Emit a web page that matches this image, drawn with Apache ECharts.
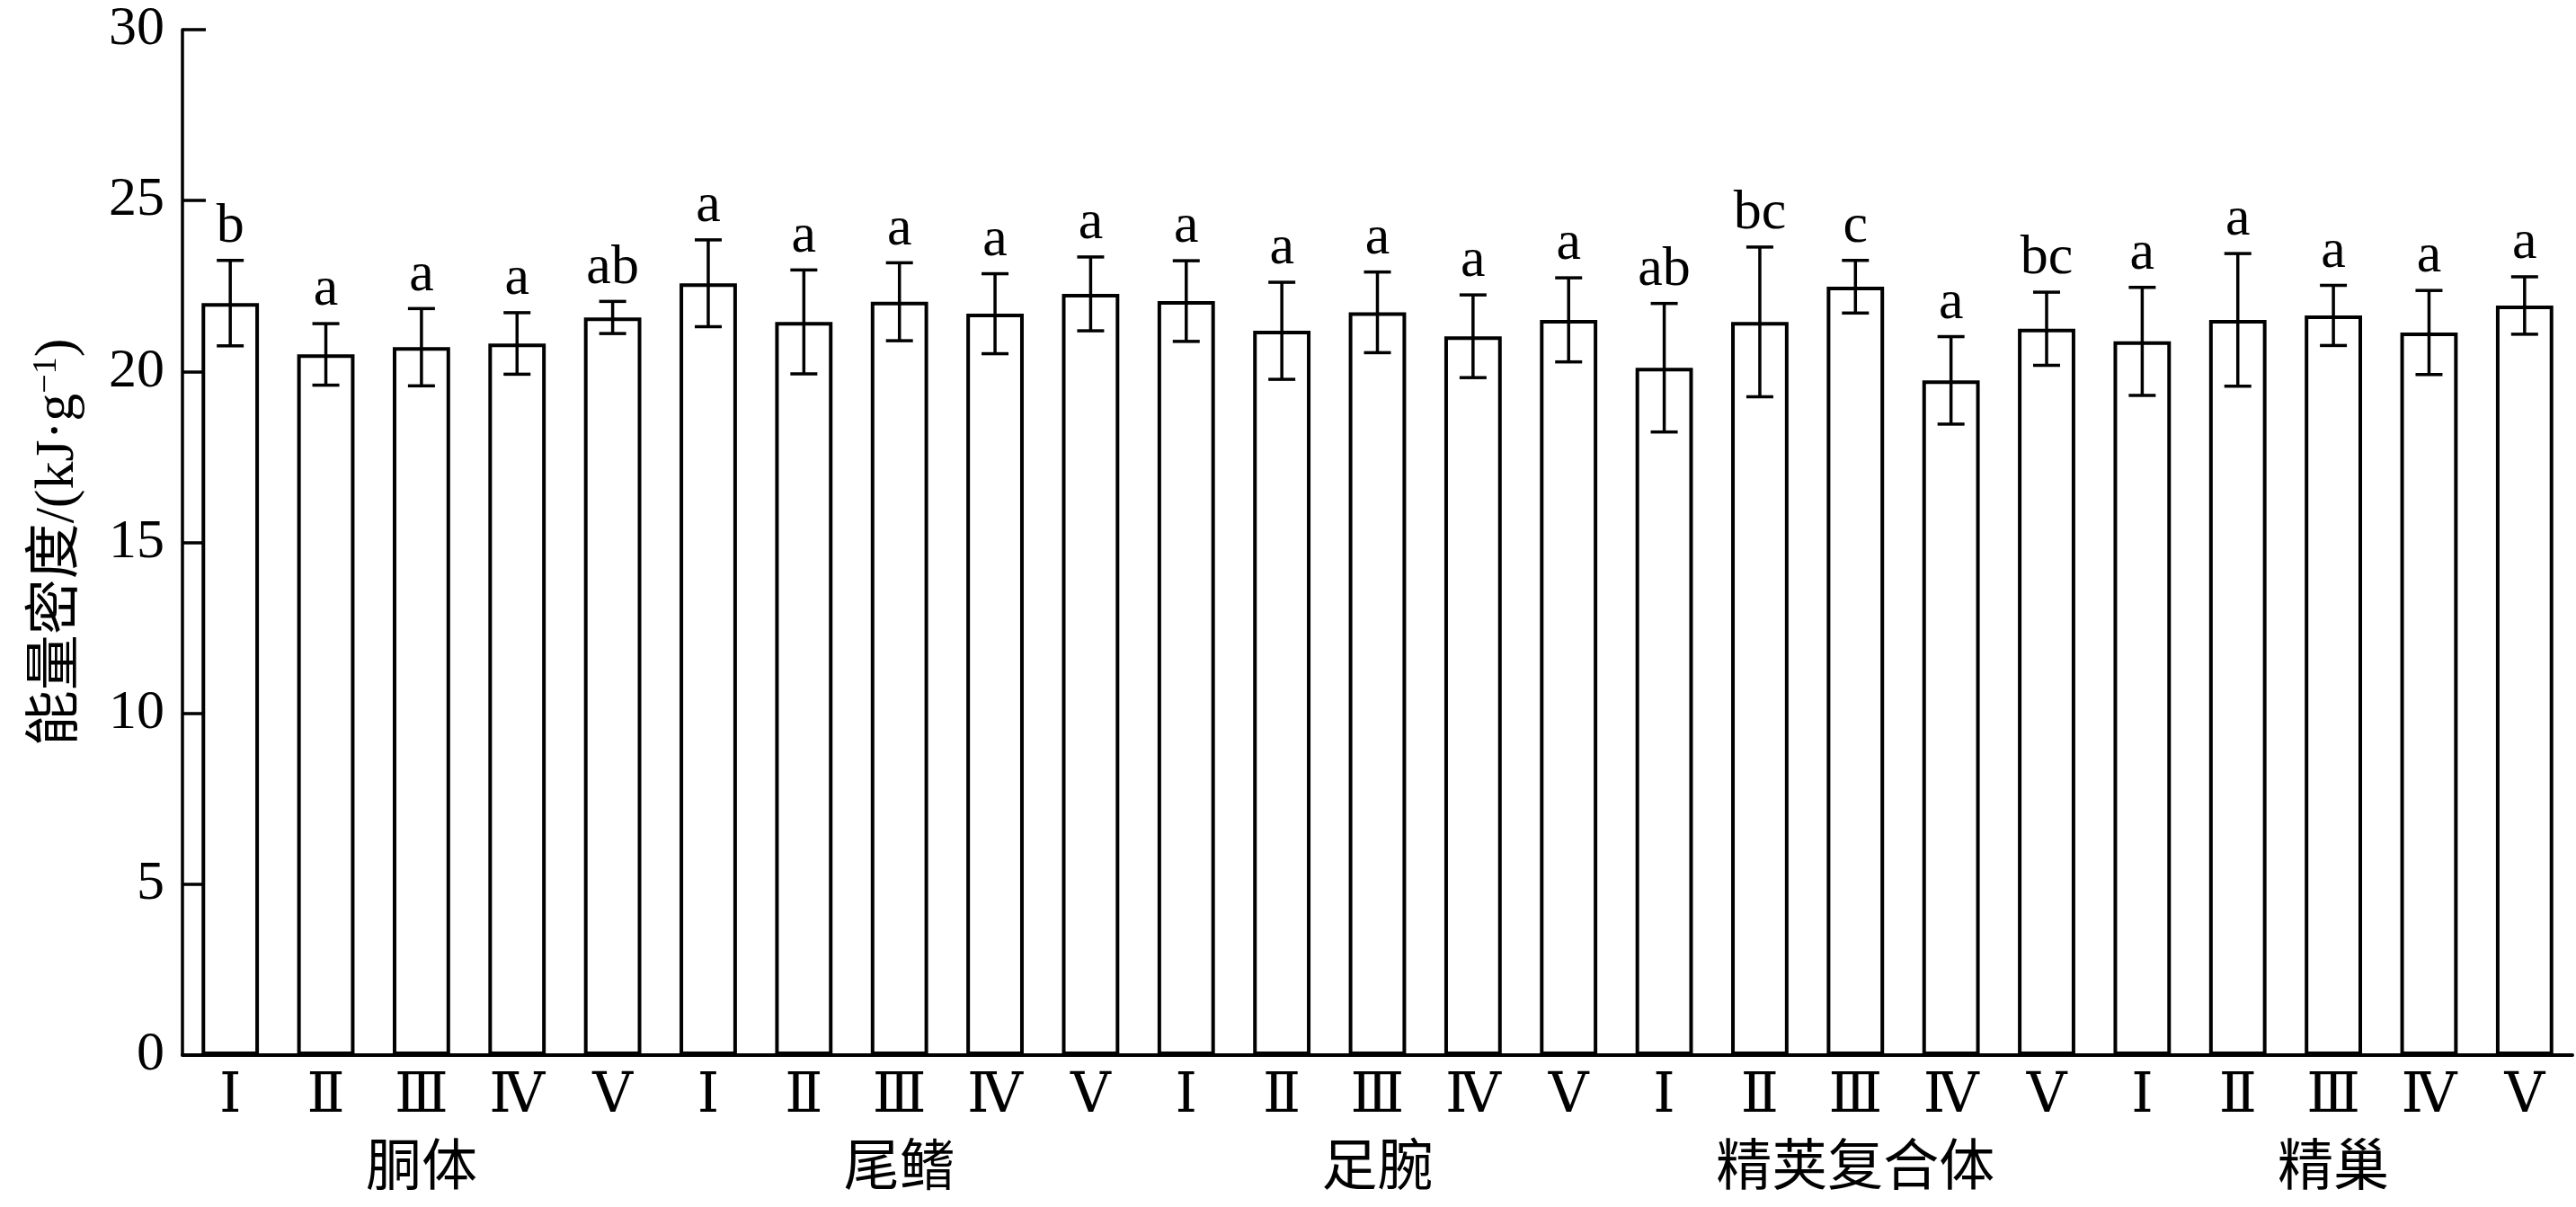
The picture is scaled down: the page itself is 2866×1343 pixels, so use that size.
<!DOCTYPE html>
<html>
<head>
<meta charset="utf-8">
<script src="https://cdn.jsdelivr.net/npm/echarts@6/dist/echarts.min.js"></script>
<style>
html,body{margin:0;padding:0;background:#fff;}
#chart{width:2866px;height:1343px;}
</style>
</head>
<body>
<div id="chart"></div>
<script>
// ---- data ----
var romans = ['Ⅰ','Ⅱ','Ⅲ','Ⅳ','Ⅴ','Ⅰ','Ⅱ','Ⅲ','Ⅳ','Ⅴ','Ⅰ','Ⅱ','Ⅲ','Ⅳ','Ⅴ','Ⅰ','Ⅱ','Ⅲ','Ⅳ','Ⅴ','Ⅰ','Ⅱ','Ⅲ','Ⅳ','Ⅴ'];
var groups = ['胴体','尾鳍','足腕','精荚复合体','精巢'];
var means = [22.0,20.5,20.71,20.82,21.58, 22.58,21.45,22.04,21.69,22.27, 22.06,21.19,21.73,21.03,21.51, 20.11,21.45,22.48,19.74,21.25, 20.88,21.51,21.64,21.14,21.93];
var sds   = [1.25,0.9,1.13,0.9,0.47, 1.27,1.52,1.14,1.17,1.08, 1.18,1.42,1.18,1.21,1.23, 1.88,2.19,0.77,1.28,1.07, 1.58,1.94,0.88,1.23,0.84];
var letters = ['b','a','a','a','ab', 'a','a','a','a','a', 'a','a','a','a','a', 'ab','bc','c','a','bc', 'a','a','a','a','a'];
var yTicks = {min:0, max:30, interval:5};

var serif = "'Liberation Serif', 'DejaVu Serif', 'Noto Sans CJK SC', serif";
var FS = 62;

var errData = means.map(function(m,i){ return [i, m, sds[i]]; });

var chart = echarts.init(document.getElementById('chart'));
chart.setOption({
  backgroundColor:'#fff',
  animation:false,
  grid:{left:203, right:4, top:33, bottom:169, containLabel:false},
  xAxis:[{
    type:'category', data:romans, position:'bottom',
    axisLine:{lineStyle:{color:'#000', width:4}},
    axisTick:{inside:true, length:16, lineStyle:{color:'#000', width:3.5}},
    axisLabel:{margin:16, fontSize:FS, color:'#000', fontFamily:serif},
    splitLine:{show:false}
  },{
    type:'category', data:groups, position:'bottom',
    axisLine:{show:false}, axisTick:{show:false},
    axisLabel:{margin:98, fontSize:FS, color:'#000', fontFamily:serif},
    splitLine:{show:false}
  }],
  yAxis:{
    type:'value', min:yTicks.min, max:yTicks.max, interval:yTicks.interval,
    axisLine:{show:true, lineStyle:{color:'#000', width:3.5}},
    axisTick:{show:true, inside:true, length:26, lineStyle:{color:'#000', width:3.5}},
    axisLabel:{margin:20, fontSize:FS, color:'#000', fontFamily:serif},
    splitLine:{show:false},
    name:'能量密度/(kJ·g{sup|−1})',
    nameLocation:'middle', nameRotate:90, nameGap:106,
    nameTextStyle:{fontSize:FS, color:'#000', fontFamily:serif,
      rich:{sup:{fontSize:38, color:'#000', fontFamily:serif, verticalAlign:'top', padding:[0,0,26,0]}}}
  },
  series:[{
    type:'bar', data:means, xAxisIndex:0, barWidth:'60%',
    itemStyle:{color:'#fff', borderColor:'#000', borderWidth:4},
    z:2
  },{
    type:'custom', xAxisIndex:0, data:errData, z:3,
    renderItem:function(params, api){
      var x = api.value(0), m = api.value(1), s = api.value(2);
      var top = api.coord([x, m+s]);
      var bot = api.coord([x, m-s]);
      var half = 15;
      var st = {stroke:'#000', lineWidth:3.5};
      return {type:'group', children:[
        {type:'line', shape:{x1:top[0], y1:top[1], x2:bot[0], y2:bot[1]}, style:st},
        {type:'line', shape:{x1:top[0]-half, y1:top[1], x2:top[0]+half, y2:top[1]}, style:st},
        {type:'line', shape:{x1:bot[0]-half, y1:bot[1], x2:bot[0]+half, y2:bot[1]}, style:st},
        {type:'text', x:top[0], y:top[1]-6, style:{text:letters[params.dataIndex], fill:'#000',
          font: FS+'px '+serif, textAlign:'center', textVerticalAlign:'bottom'}}
      ]};
    }
  }]
});
</script>
</body>
</html>
